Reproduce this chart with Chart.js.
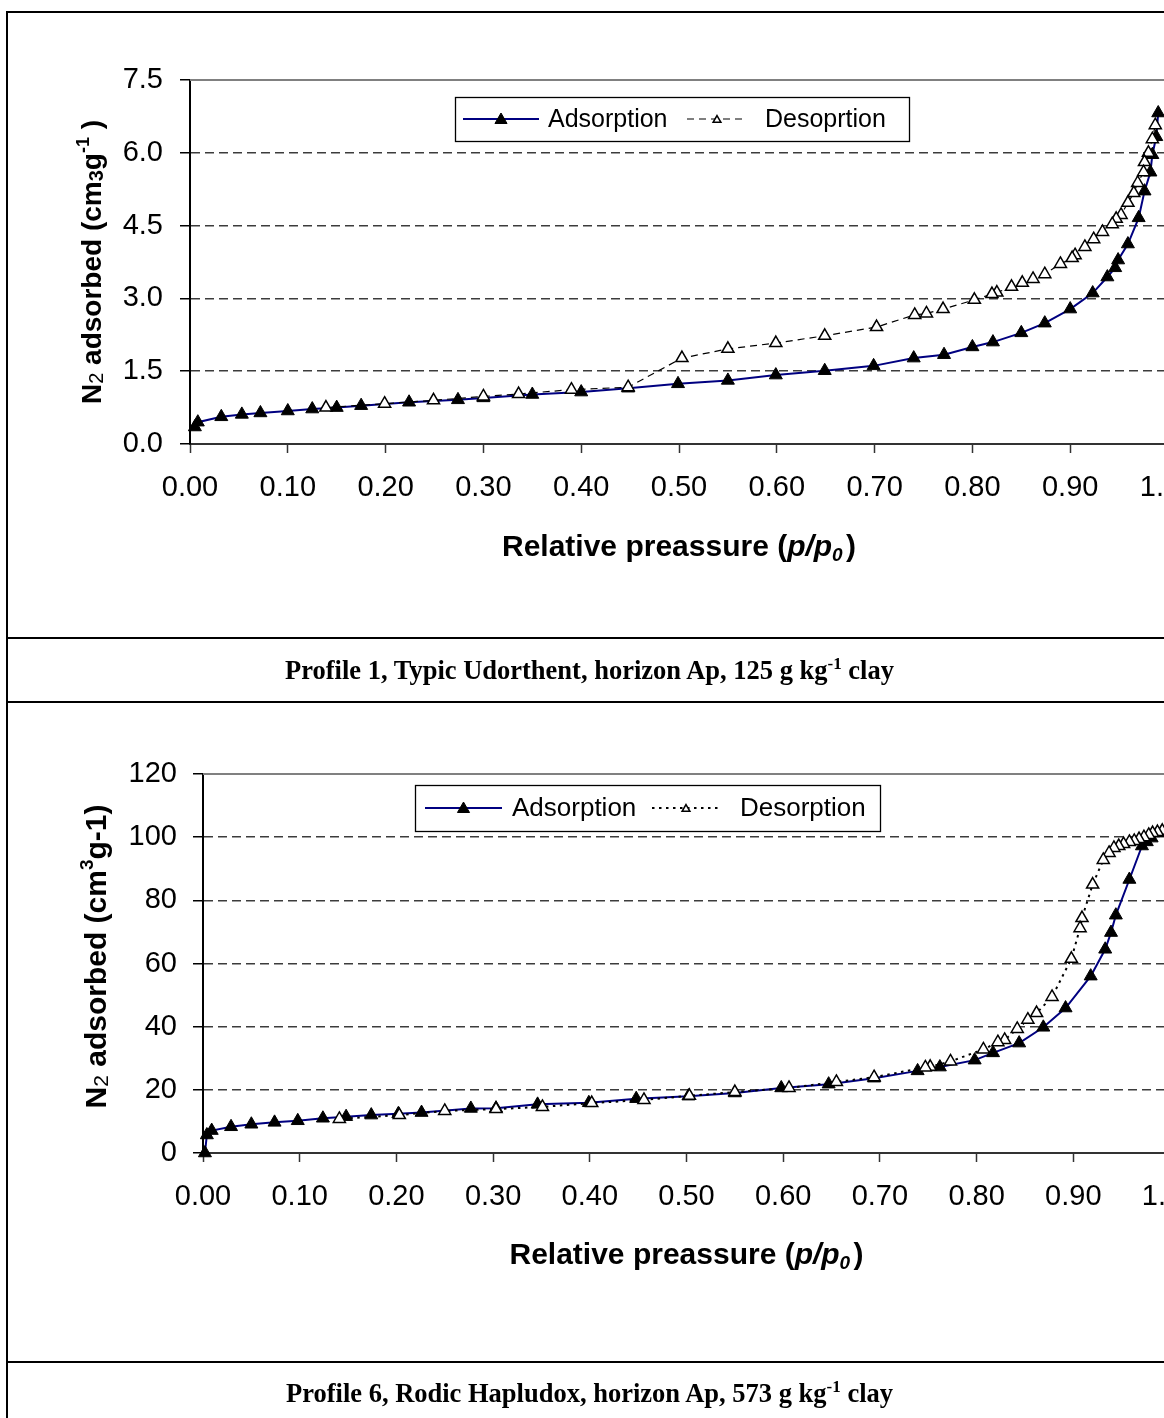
<!DOCTYPE html>
<html><head><meta charset="utf-8">
<script src="https://cdn.jsdelivr.net/npm/chart.js@4.4.1/dist/chart.umd.min.js"></script>
<style>
html,body{margin:0;padding:0;background:#fff;width:1164px;height:1418px;overflow:hidden;position:relative;}
.ln{position:absolute;background:#000;}
canvas{position:absolute;left:0;}
.cap{position:absolute;left:7px;width:1165px;text-align:center;font-family:"Liberation Serif","Times New Roman",serif;font-weight:bold;font-size:26.5px;line-height:30px;color:#000;}
.cap sup{font-size:17px;vertical-align:0;position:relative;top:-10px;}
</style></head><body>
<canvas id="c1" width="1240" height="636" style="top:0px"></canvas>
<canvas id="c2" width="1240" height="660" style="top:700px"></canvas>
<div class="ln" style="left:6px;top:11px;width:2px;height:1407px"></div>
<div class="ln" style="left:6px;top:11px;width:1158px;height:2px"></div>
<div class="ln" style="left:6px;top:637px;width:1158px;height:2px"></div>
<div class="ln" style="left:6px;top:701px;width:1158px;height:2px"></div>
<div class="ln" style="left:6px;top:1361px;width:1158px;height:2px"></div>
<div class="cap" style="top:655px">Profile 1, Typic Udorthent, horizon Ap, 125 g kg<sup>-1</sup> clay</div>
<div class="cap" style="top:1378px">Profile 6, Rodic Hapludox, horizon Ap, 573 g kg<sup>-1</sup> clay</div>
<script>
// ---------- DATA ----------
const xTicks = [0.00,0.10,0.20,0.30,0.40,0.50,0.60,0.70,0.80,0.90,1.00];
const yTicks1 = [0.0,1.5,3.0,4.5,6.0,7.5];
const yTicks2 = [0,20,40,60,80,100,120];

// Profile 1
const ads1P = [0.005,0.008,0.032,0.053,0.072,0.100,0.125,0.150,0.175,0.224,0.274,0.300,0.350,0.400,0.448,0.499,0.550,0.599,0.649,0.699,0.740,0.771,0.800,0.821,0.850,0.874,0.900,0.923,0.938,0.946,0.949,0.959,0.970,0.976,0.982,0.984,0.988,0.990];
const ads1V = [0.35,0.45,0.56,0.61,0.64,0.68,0.72,0.75,0.79,0.86,0.91,0.95,1.02,1.07,1.15,1.24,1.31,1.42,1.51,1.61,1.77,1.84,2.00,2.10,2.29,2.49,2.78,3.11,3.44,3.63,3.79,4.12,4.66,5.21,5.60,5.96,6.33,6.82];
const des1P = [0.987,0.984,0.980,0.976,0.975,0.969,0.965,0.959,0.952,0.947,0.943,0.933,0.924,0.915,0.905,0.902,0.890,0.874,0.862,0.851,0.840,0.825,0.820,0.802,0.770,0.753,0.741,0.702,0.649,0.599,0.550,0.503,0.448,0.390,0.336,0.300,0.249,0.199,0.139];
const des1V = [6.57,6.28,6.00,5.81,5.60,5.38,5.17,4.97,4.72,4.64,4.53,4.37,4.22,4.06,3.89,3.83,3.71,3.50,3.40,3.32,3.24,3.12,3.09,2.97,2.78,2.69,2.66,2.41,2.23,2.08,1.96,1.77,1.17,1.12,1.03,0.98,0.90,0.83,0.75];

// Profile 6
const ads2P = [0.002,0.004,0.009,0.029,0.050,0.074,0.098,0.124,0.148,0.174,0.202,0.226,0.277,0.303,0.346,0.399,0.448,0.502,0.550,0.598,0.647,0.694,0.739,0.762,0.798,0.817,0.844,0.869,0.892,0.918,0.933,0.939,0.944,0.958,0.971,0.976,0.981,0.991];
const ads2V = [0.0,5.7,7.1,8.3,9.1,9.7,10.2,11.0,11.5,12.0,12.4,12.8,14.1,14.2,15.4,15.9,17.2,18.0,19.0,20.6,21.8,23.7,26.0,27.2,29.4,31.7,34.8,39.8,45.9,56.0,64.5,69.8,75.3,86.6,97.2,98.5,99.7,101.4];
const des2P = [0.992,0.987,0.982,0.978,0.973,0.968,0.963,0.958,0.952,0.947,0.942,0.937,0.931,0.920,0.909,0.907,0.898,0.878,0.862,0.853,0.842,0.829,0.822,0.807,0.773,0.752,0.747,0.694,0.655,0.606,0.550,0.503,0.456,0.402,0.351,0.303,0.250,0.203,0.141];
const des2V = [102.0,101.6,101.3,100.7,100.0,99.4,98.8,98.5,97.8,97.2,96.6,95.0,92.8,85.0,74.4,71.2,61.5,49.4,44.3,42.2,39.3,35.8,35.1,32.8,29.0,27.3,27.1,24.0,22.5,20.6,19.3,18.1,16.8,15.8,14.6,13.9,13.3,12.0,10.8];

const labels1 = ['Adsorption','Desoprtion'];
const labels2 = ['Adsorption','Desorption'];

// ---------- HELPERS ----------
const SANS = "'Liberation Sans', Arial, sans-serif";
const pts = (xs, ys) => xs.map((x, i) => ({x: x, y: ys[i]}));

function fontStr(s) {
  return (s.it ? 'italic ' : '') + (s.b ? 'bold ' : '') + s.sz + 'px ' + SANS;
}
function drawRich(ctx, segs, cx, cy, rot, mainSize) {
  ctx.save();
  ctx.translate(cx, cy);
  if (rot) ctx.rotate(rot);
  ctx.textAlign = 'left';
  ctx.textBaseline = 'alphabetic';
  ctx.fillStyle = '#000';
  const ws = segs.map(s => { ctx.font = fontStr(s); return ctx.measureText(s.t).width; });
  let x = -ws.reduce((a, b) => a + b, 0) / 2;
  const base = mainSize * 0.36;
  segs.forEach((s, i) => { ctx.font = fontStr(s); ctx.fillText(s.t, x, base + (s.dy || 0)); x += ws[i]; });
  ctx.restore();
}
function tri(ctx, x, y, r, fill, stroke, bw) {
  ctx.save();
  ctx.beginPath();
  for (let k = 0; k < 3; k++) {
    const a = k * 2 * Math.PI / 3;
    const px = x + Math.sin(a) * r, py = y - Math.cos(a) * r;
    if (k === 0) ctx.moveTo(px, py); else ctx.lineTo(px, py);
  }
  ctx.closePath();
  ctx.fillStyle = fill; ctx.fill();
  ctx.lineWidth = bw; ctx.strokeStyle = stroke; ctx.stroke();
  ctx.restore();
}

const decor = {
  id: 'decor',
  afterDraw(chart, args, o) {
    const ctx = chart.ctx, a = chart.chartArea;
    // plot area top border
    ctx.save();
    ctx.strokeStyle = '#808080'; ctx.lineWidth = 2;
    ctx.beginPath(); ctx.moveTo(a.left, a.top); ctx.lineTo(a.right, a.top); ctx.stroke();
    ctx.restore();
    // axis titles
    drawRich(ctx, o.xTitle, (a.left + a.right) / 2, a.bottom + o.xTitleOff, 0, 30);
    drawRich(ctx, o.yTitle, a.left - o.yTitleOff, (a.top + a.bottom) / 2 + o.yTitleShift, -Math.PI / 2, o.yTitleSize);
    // legend
    const L = o.legend, b = L.box;
    ctx.save();
    ctx.fillStyle = '#fff'; ctx.fillRect(b[0], b[1], b[2] - b[0], b[3] - b[1]);
    ctx.strokeStyle = '#000'; ctx.lineWidth = 1.3;
    ctx.strokeRect(b[0] + 0.5, b[1] + 0.5, b[2] - b[0], b[3] - b[1]);
    const cy = (b[1] + b[3]) / 2;
    L.items.forEach(it => {
      const ds = chart.data.datasets[it.ds];
      ctx.save();
      ctx.setLineDash(ds.borderDash || []);
      ctx.strokeStyle = ds.borderColor; ctx.lineWidth = ds.borderWidth;
      ctx.beginPath(); ctx.moveTo(it.x1, cy); ctx.lineTo(it.x2, cy); ctx.stroke();
      ctx.restore();
      tri(ctx, (it.x1 + it.x2) / 2, cy + 1, it.r, ds.pointBackgroundColor, ds.pointBorderColor, ds.pointBorderWidth);
      ctx.fillStyle = '#000';
      ctx.font = L.size + 'px ' + SANS;
      ctx.textAlign = 'left'; ctx.textBaseline = 'middle';
      ctx.fillText(ds.label, it.tx, cy + 1);
    });
    ctx.restore();
  }
};

function makeChart(id, cfg) {
  const yMax = cfg.yTicks[cfg.yTicks.length - 1];
  return new Chart(document.getElementById(id), {
    type: 'line',
    data: {
      datasets: [
        {
          label: cfg.labels[0], data: pts(cfg.aP, cfg.aV), order: 1,
          borderColor: '#000080', borderWidth: 2, tension: 0, fill: false,
          pointStyle: 'triangle', pointRadius: 7.5, pointBackgroundColor: '#000',
          pointBorderColor: '#000', pointBorderWidth: 1, clip: false
        },
        {
          label: cfg.labels[1], data: pts(cfg.dP, cfg.dV), order: 0,
          borderColor: '#000', borderWidth: cfg.dWidth, borderDash: cfg.dDash, tension: 0, fill: false,
          pointStyle: 'triangle', pointRadius: 7, pointBackgroundColor: '#fff',
          pointBorderColor: '#000', pointBorderWidth: 1.5, clip: false
        }
      ]
    },
    options: {
      responsive: false, animation: false, events: [], devicePixelRatio: 1,
      layout: { padding: cfg.pad },
      plugins: { legend: { display: false }, tooltip: { enabled: false }, decor: cfg.decor },
      scales: {
        x: {
          type: 'linear', min: 0, max: 1,
          afterBuildTicks: s => { s.ticks = xTicks.map(v => ({ value: v })); },
          afterFit: s => { s.height = 60; },
          ticks: { autoSkip: false, maxRotation: 0, minRotation: 0, padding: 18, color: '#000',
                   font: { family: SANS, size: 29 }, callback: v => Number(v).toFixed(2) },
          grid: { drawOnChartArea: false, tickLength: 9, tickColor: '#333', tickWidth: 1.5 },
          border: { color: '#333', width: 2 }
        },
        y: {
          type: 'linear', min: 0, max: yMax,
          afterBuildTicks: s => { s.ticks = cfg.yTicks.map(v => ({ value: v })); },
          afterFit: s => { s.width = cfg.yWidth; },
          ticks: { padding: cfg.yPad, color: '#000', font: { family: SANS, size: 29 },
                   callback: v => Number(v).toFixed(cfg.yDec) },
          grid: {
            color: c => (c.tick && c.tick.value === yMax) ? 'rgba(0,0,0,0)' : '#3c3c3c',
            lineWidth: 1.5, tickLength: 10, tickColor: '#000', tickWidth: 1.5, tickBorderDash: []
          },
          border: { color: '#000', width: 2, dash: [9, 5] }
        }
      }
    },
    plugins: [decor]
  });
}

makeChart('c1', {
  aP: ads1P, aV: ads1V, dP: des1P, dV: des1V, labels: labels1, yTicks: yTicks1, yDec: 1,
  dWidth: 1.2, dDash: [7, 5], yWidth: 190, yPad: 17,
  pad: { top: 80, right: 72, bottom: 132, left: 0 },
  decor: {
    xTitleOff: 101, yTitleOff: 99, yTitleShift: 0, yTitleSize: 28,
    xTitle: [{t:'Relative preassure (', b:1, sz:30}, {t:'p/p', b:1, it:1, sz:30}, {t:'0', b:1, it:1, sz:19, dy:5}, {t:' ', sz:12}, {t:')', b:1, sz:30}],
    yTitle: [{t:'N', b:1, sz:28}, {t:'2', sz:20, dy:2}, {t:' adsorbed (cm', b:1, sz:28}, {t:'3', b:1, sz:20, dy:2}, {t:'g', b:1, sz:28}, {t:'-1', b:1, sz:18, dy:-12}, {t:' )', b:1, sz:28}],
    legend: { box: [455, 97, 909, 141], size: 25,
      items: [{ ds: 0, x1: 463, x2: 539, tx: 548, r: 7 }, { ds: 1, x1: 687, x2: 747, tx: 765, r: 4.5 }] }
  }
});

makeChart('c2', {
  aP: ads2P, aV: ads2V, dP: des2P, dV: des2V, labels: labels2, yTicks: yTicks2, yDec: 0,
  dWidth: 2, dDash: [2.5, 4.5], yWidth: 203, yPad: 16,
  pad: { top: 74, right: 70, bottom: 147, left: 0 },
  decor: {
    xTitleOff: 100, yTitleOff: 108, yTitleShift: -7, yTitleSize: 30,
    xTitle: [{t:'Relative preassure (', b:1, sz:30}, {t:'p/p', b:1, it:1, sz:30}, {t:'0', b:1, it:1, sz:19, dy:5}, {t:' ', sz:12}, {t:')', b:1, sz:30}],
    yTitle: [{t:'N', b:1, sz:30}, {t:'2', sz:21, dy:2}, {t:' adsorbed (cm', b:1, sz:30}, {t:'3', b:1, sz:19, dy:-13}, {t:'g-1)', b:1, sz:30}],
    legend: { box: [415, 85, 880, 131], size: 26,
      items: [{ ds: 0, x1: 425, x2: 502, tx: 512, r: 7 }, { ds: 1, x1: 652, x2: 720, tx: 740, r: 4.5 }] }
  }
});
</script>
</body></html>
